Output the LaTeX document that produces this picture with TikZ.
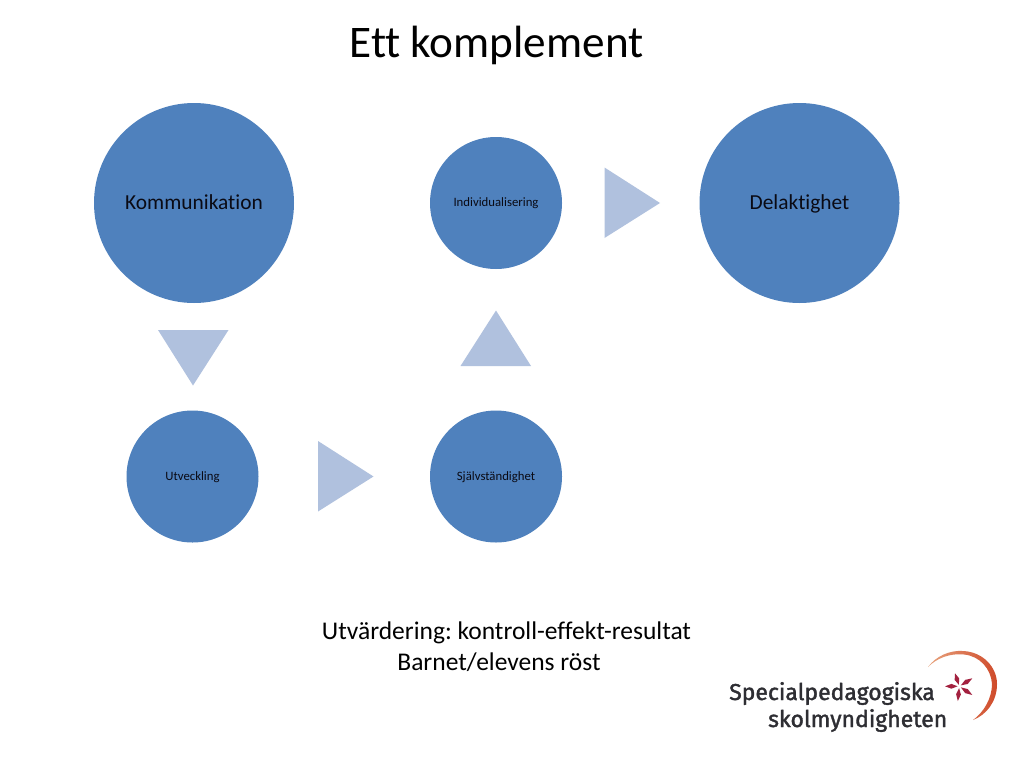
\documentclass[tikz,border=0pt]{standalone}
\usetikzlibrary{calc}
\usepackage{fontspec}
\setmainfont[Ligatures=NoCommon]{Carlito}
\newfontfamily\logofont[Ligatures=NoCommon,FakeBold=1.6]{Fira Sans}
\definecolor{circ}{HTML}{4F81BD}
\definecolor{tri}{HTML}{B0C1DE}
\definecolor{ink}{HTML}{0A0A14}
\definecolor{logotxt}{HTML}{2E2E33}
\definecolor{star}{HTML}{A3213F}
\definecolor{arcA}{HTML}{E8A47E}
\definecolor{arcB}{HTML}{CF4A2A}
\frenchspacing
\tikzset{
  bub/.style={circle,fill=circ,draw=none,inner sep=0pt,text=ink,align=center},
  big/.style={bub,minimum size=200pt,text height=12pt,text depth=0pt,font=\fontsize{21.4}{24}\selectfont},
  small/.style={bub,minimum size=132pt,text height=7pt,text depth=0pt,font=\fontsize{12.75}{14}\selectfont},
  arrowtri/.style={fill=tri,draw=none},
  caption/.style={inner sep=0pt,anchor=base,text=black,font=\fontsize{25.5}{28}\selectfont},
  logotext/.style={inner sep=0pt,anchor=base west,text=logotxt,font=\logofont\fontsize{23}{28}\selectfont},
}
\begin{document}
\begin{tikzpicture}[x=1pt,y=-1pt]
\useasboundingbox (0,0) rectangle (1024,768);
\fill[white] (0,0) rectangle (1024,768);
\node[inner sep=0pt,anchor=base,font=\fontsize{45.2}{50}\selectfont] (title) at (496.5,57) {Ett komplement};
\node[big] (komm) at (194,203) {Kommunikation};
\node[big] (dela) at (799.5,203) {Delaktighet};
\node[small] (indi) at (496,203) {Individualisering};
\node[small] (utve) at (192.5,476.5) {Utveckling};
\node[small] (sjal) at (496,476.5) {Självständighet};
\fill[arrowtri] (158,330) -- (228.5,330) -- (193,385.5) -- cycle;
\fill[arrowtri] (318,441) -- (373.5,476.5) -- (318,511.5) -- cycle;
\fill[arrowtri] (460.5,366) -- (531,366) -- (496,310.5) -- cycle;
\fill[arrowtri] (604.5,167.5) -- (660,203) -- (604.5,238) -- cycle;
\node[caption] (cap1) at (506.5,639) {Utvärdering: kontroll-effekt-resultat};
\node[caption] (cap2) at (499,670) {Barnet/elevens röst};
\node[logotext] (logo1) at (729,700) {Specialpedagogiska};
\node[logotext] (logo2) at (768,727) {skolmyndigheten};
% logo arc
\shade[left color=arcA,right color=arcB] (928,667) .. controls (936,656) and (950,650) .. (963,651)
  .. controls (984,652) and (997,668) .. (997,684)
  .. controls (997,702) and (986,715) .. (973,720)
  .. controls (984,712) and (992,698) .. (992,684)
  .. controls (991,669) and (980,656) .. (964,654.5)
  .. controls (950,653) and (937,658) .. (928,667) -- cycle;
% logo star
\foreach \x/\y in {955/673.3,972.3/678.3,972.3/695,957.8/701,945/686.3}{
  \path (959.3,686.3) -- (\x,\y) coordinate[pos=.55] (m) coordinate[pos=.12] (s);
  \fill[star] (s) -- ($(m)!2.4pt!90:(\x,\y)$) -- (\x,\y) -- ($(m)!2.4pt!-90:(\x,\y)$) -- cycle;
}
\end{tikzpicture}
\end{document}
